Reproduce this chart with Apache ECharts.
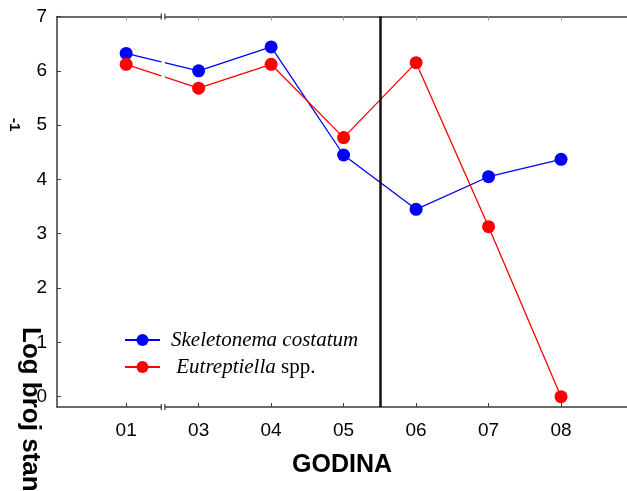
<!DOCTYPE html>
<html>
<head>
<meta charset="utf-8">
<script src="https://cdn.jsdelivr.net/npm/echarts@6/dist/echarts.min.js"></script>
<style>
  html, body { margin: 0; padding: 0; background: #fff; }
  #chart { width: 627px; height: 491px; }
</style>
</head>
<body>
<div id="chart"></div>
<script>
// Sampling campaigns (godina) and log cell counts per species
const categories = ['01', '03', '04', '05', '06', '07', '08'];
const skeletonema = [6.32, 6.0, 6.44, 4.45, 3.45, 4.05, 4.37];
const eutreptiella = [6.12, 5.68, 6.12, 4.77, 6.15, 3.13, 0.0];
const yTicks = [0, 1, 2, 3, 4, 5, 6, 7];

// campaign index where the vertical separator sits, and the axis break span
const separatorAt = 3.5;
const breakSpan = [0.485, 0.535];

const xIdx = categories.map((c, i) => i);
const toPoints = vals => vals.map((v, i) => [i, v]);

const axisColor = '#3a3a3a';
const xMin = -0.954, xMax = 6.91;
const yMin = -0.19, yMax = 7;

const chart = echarts.init(document.getElementById('chart'), null, { renderer: 'canvas' });

const serifItalic = {
  fontFamily: '"Liberation Serif", "Times New Roman", serif',
  fontStyle: 'italic',
  fontSize: 21,
  color: '#000'
};

const option = {
  animation: false,
  backgroundColor: '#fff',
  grid: { left: 57, right: 0, top: 16.5, bottom: 84, containLabel: false },
  xAxis: [
    {
      type: 'value',
      position: 'bottom',
      min: xMin,
      max: xMax,
      splitLine: { show: false },
      axisLine: { show: true, onZero: false, lineStyle: { color: axisColor, width: 1.5 } },
      axisTick: { show: true, inside: true, length: 4, customValues: xIdx, lineStyle: { color: axisColor, width: 1 } },
      axisLabel: {
        customValues: xIdx,
        formatter: v => categories[Math.round(v)] || '',
        fontFamily: '"Liberation Sans", Arial, sans-serif',
        fontSize: 19,
        color: '#000',
        margin: 14
      },
      name: 'GODINA',
      nameLocation: 'middle',
      nameGap: 46,
      nameTextStyle: {
        fontFamily: '"Liberation Sans", Arial, sans-serif',
        fontWeight: 'bold',
        fontSize: 25,
        color: '#000'
      }
    },
    {
      type: 'value',
      position: 'top',
      min: xMin,
      max: xMax,
      splitLine: { show: false },
      axisLine: { show: true, onZero: false, lineStyle: { color: axisColor, width: 1.5 } },
      axisTick: { show: true, inside: true, length: 4, customValues: xIdx, lineStyle: { color: '#999', width: 1 } },
      axisLabel: { show: false }
    }
  ],
  yAxis: {
    type: 'value',
    min: yMin,
    max: yMax,
    splitLine: { show: false },
    axisLine: { show: true, onZero: false, lineStyle: { color: axisColor, width: 1.5 } },
    axisTick: { show: true, inside: true, length: 4, customValues: yTicks, lineStyle: { color: axisColor, width: 1 } },
    axisLabel: {
      customValues: yTicks,
      fontFamily: '"Liberation Sans", Arial, sans-serif',
      fontSize: 19,
      color: '#000',
      margin: 10
    }
  },
  legend: {
    orient: 'vertical',
    left: 124,
    top: 329,
    itemWidth: 35,
    itemHeight: 15,
    itemGap: 5,
    padding: 0,
    data: ['Skeletonema costatum', 'Eutreptiella spp.'],
    formatter: name => name === 'Skeletonema costatum'
      ? '{i|Skeletonema costatum}'
      : '{i| Eutreptiella}{n| spp.}',
    textStyle: {
      lineHeight: 22,
      padding: [0, 0, 0, 6],
      rich: {
        i: Object.assign({ lineHeight: 22 }, serifItalic),
        n: Object.assign({ lineHeight: 22 }, serifItalic, { fontStyle: 'normal' })
      }
    }
  },
  series: [
    {
      name: 'Skeletonema costatum',
      type: 'line',
      data: toPoints(skeletonema),
      symbol: 'circle',
      symbolSize: 13,
      z: 3,
      lineStyle: { color: '#0000ff', width: 1.3 },
      itemStyle: { color: '#0000ff' }
    },
    {
      name: 'Eutreptiella spp.',
      type: 'line',
      data: toPoints(eutreptiella),
      symbol: 'circle',
      symbolSize: 13,
      z: 3,
      lineStyle: { color: '#ff0000', width: 1.3 },
      itemStyle: { color: '#ff0000' },
      markLine: {
        silent: true,
        symbol: 'none',
        label: { show: false },
        lineStyle: { color: '#111', width: 2.5, type: 'solid' },
        data: [{ xAxis: separatorAt }]
      }
    }
  ]
};

chart.setOption(option);

// Axis break: a white gap through the plot with short bars on both frame lines
const pA = chart.convertToPixel({ gridIndex: 0 }, [breakSpan[0], yMax]);
const pB = chart.convertToPixel({ gridIndex: 0 }, [breakSpan[1], yMin]);
const x0 = pA[0], x1 = pB[0], yTop = pA[1], yBot = pB[1];
const barStyle = { stroke: axisColor, lineWidth: 1.2 };
const breakGraphics = [
  { type: 'rect', z: 100, shape: { x: x0, y: yTop - 3, width: x1 - x0, height: yBot - yTop + 6 }, style: { fill: '#fff' } }
];
[yTop, yBot].forEach(yy => {
  [x0, x1].forEach(xx => {
    breakGraphics.push({ type: 'line', z: 101, shape: { x1: xx, y1: yy - 3, x2: xx, y2: yy + 3 }, style: barStyle });
  });
});

// Rotated y-axis title and its detached superscript
const titleGraphics = [
  {
    type: 'text', z: 101, x: 30, y: 327, rotation: -Math.PI / 2,
    style: {
      text: 'Log broj stanica L', fill: '#000',
      font: 'bold 26px "Liberation Sans", Arial, sans-serif',
      align: 'left', verticalAlign: 'middle'
    }
  },
  {
    type: 'text', z: 101, x: 14, y: 118, rotation: -Math.PI / 2,
    style: {
      text: '-1', fill: '#000',
      font: 'bold 15px "Liberation Sans", Arial, sans-serif',
      align: 'left', verticalAlign: 'middle'
    }
  }
];

chart.setOption({ graphic: breakGraphics.concat(titleGraphics) });
</script>
</body>
</html>
